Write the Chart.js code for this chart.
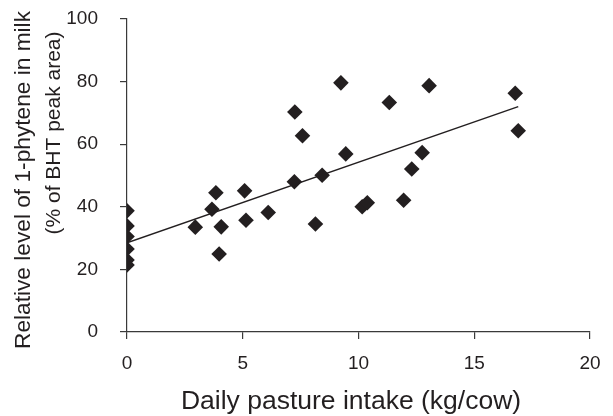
<!DOCTYPE html>
<html>
<head>
<meta charset="utf-8">
<script src="https://cdn.jsdelivr.net/npm/chart.js@4/dist/chart.umd.min.js"></script>
<style>
  html, body { margin: 0; padding: 0; background: #fff; }
  #wrap { width: 613px; height: 416px; }
</style>
</head>
<body>
<div id="wrap"><canvas id="scatterChart"></canvas></div>
<script>
// Data
const pastureIntake = [0, 0, 0, 0, 0, 0, 2.95, 3.67, 3.84, 4.07, 3.98, 5.08, 5.14, 6.1, 7.25, 7.23,
  7.58, 8.14, 8.43, 9.24, 9.45, 10.16, 10.38, 11.33, 11.95, 12.3, 12.75, 13.05, 16.77, 16.9];
const phyteneLevel = [38.7, 33.9, 30.5, 26.5, 23, 21.4, 33.5, 39.2, 44.5, 33.6, 24.9, 45.1, 35.7, 38.2, 70.3, 48,
  62.7, 34.5, 50.1, 79.6, 56.9, 40, 41.3, 73.3, 42.1, 52.1, 57.3, 78.7, 76.3, 64.3];
const trendX = [0, 16.9];
const trendY = [28.5, 72];
const xTicks = [0, 5, 10, 15, 20];
const yTicks = [0, 20, 40, 60, 80, 100];

const xTitle = 'Daily pasture intake (kg/cow)';
const yTitle = ['Relative level of 1-phytene in milk', '(% of BHT peak area)'];

const ink = '#231f20';
const axisColor = '#3a3a3a';
const fontFamily = '"Liberation Sans", Arial, sans-serif';

// axis titles drawn by hand so the two y lines can sit where they do in the figure
const titlePlugin = {
  id: 'axisTitles',
  afterDraw(chart) {
    const ctx = chart.ctx;
    ctx.save();
    ctx.fillStyle = ink;
    ctx.textAlign = 'center';
    ctx.textBaseline = 'middle';
    ctx.font = '26.5px ' + fontFamily;
    ctx.fillText(xTitle, 351, 402);
    const ySpots = [[24, 180, 22.7], [54, 133, 21]];
    yTitle.forEach((t, i) => {
      ctx.save();
      ctx.font = ySpots[i][2] + 'px ' + fontFamily;
      ctx.translate(ySpots[i][0], ySpots[i][1]);
      ctx.rotate(-Math.PI / 2);
      ctx.fillText(t, 0, 0);
      ctx.restore();
    });
    ctx.restore();
  }
};

const ctx = document.getElementById('scatterChart').getContext('2d');
const chart = new Chart(ctx, {
  type: 'scatter',
  data: {
    datasets: [{
      label: 'Samples',
      data: pastureIntake.map((x, i) => ({ x: x, y: phyteneLevel[i] })),
      pointStyle: 'rectRot',
      pointRadius: 7.8,
      pointHoverRadius: 7.8,
      backgroundColor: ink,
      borderColor: ink,
      borderWidth: 0,
      order: 1
    }, {
      type: 'line',
      label: 'Trend',
      data: trendX.map((x, i) => ({ x: x, y: trendY[i] })),
      borderColor: ink,
      borderWidth: 1.5,
      pointRadius: 0,
      fill: false,
      order: 0
    }]
  },
  options: {
    responsive: true,
    maintainAspectRatio: false,
    animation: false,
    layout: { padding: { left: 0, right: 23, top: 19, bottom: 0 } },
    plugins: {
      legend: { display: false },
      tooltip: { enabled: false }
    },
    scales: {
      x: {
        type: 'linear',
        min: 0,
        max: 20,
        afterFit(scale) { scale.height = 84; scale.paddingLeft = 0; scale.paddingRight = 0; },
        afterBuildTicks(scale) { scale.ticks = xTicks.map(v => ({ value: v })); },
        border: { display: true, color: axisColor, width: 1.2 },
        grid: { display: true, drawOnChartArea: false, drawTicks: true, tickLength: 7, color: axisColor, lineWidth: 1.2 },
        ticks: { color: ink, font: { family: fontFamily, size: 19 }, padding: 13, maxRotation: 0 }
      },
      y: {
        type: 'linear',
        min: 0,
        max: 100,
        afterFit(scale) { scale.width = 127; scale.paddingTop = 0; scale.paddingBottom = 0; },
        afterBuildTicks(scale) { scale.ticks = yTicks.map(v => ({ value: v })); },
        border: { display: true, color: axisColor, width: 1.2 },
        grid: { display: true, drawOnChartArea: false, drawTicks: true, tickLength: 7, color: axisColor, lineWidth: 1.2 },
        ticks: { color: ink, font: { family: fontFamily, size: 19 }, padding: 22 }
      }
    }
  },
  plugins: [titlePlugin]
});
</script>
</body>
</html>
